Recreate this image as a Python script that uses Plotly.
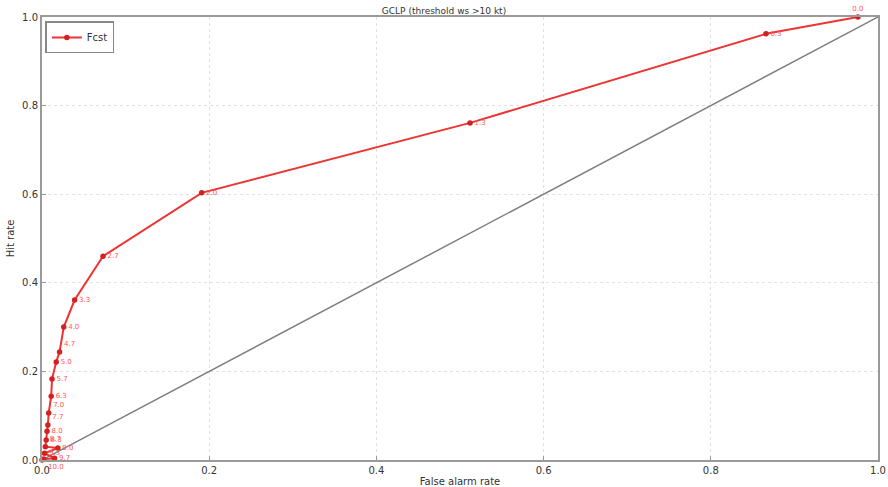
import plotly.graph_objects as go

far = [0.976, 0.866, 0.512, 0.191, 0.073, 0.039, 0.026, 0.021, 0.017, 0.012, 0.011,
       0.008, 0.007, 0.006, 0.005, 0.004, 0.019, 0.003, 0.015, 0.002, 0.0]
hit = [1.0, 0.962, 0.761, 0.603, 0.46, 0.361, 0.30, 0.244, 0.221, 0.183, 0.144,
       0.106, 0.079, 0.065, 0.045, 0.03, 0.027, 0.015, 0.004, 0.002, 0.0]
thresholds = ["0.0", "0.3", "1.3", "2.0", "2.7", "3.3", "4.0", "4.7", "5.0", "5.7", "6.3",
              "7.0", "7.7", "8.0", "8.3", "8.7", "9.0", "9.3", "9.7", "10.0", ""]
label_pos = ["top center", "middle right", "middle right", "middle right", "middle right",
             "middle right", "middle right", "top right", "middle right", "middle right",
             "middle right", "top right", "top right", "middle right", "middle right",
             "top right", "middle right", "middle right", "middle right", "bottom right",
             "middle right"]
diag = [0.0, 1.0]
ticks = [0.0, 0.2, 0.4, 0.6, 0.8, 1.0]
tick_text = ["0.0", "0.2", "0.4", "0.6", "0.8", "1.0"]

fig = go.Figure()
fig.add_trace(go.Scatter(x=diag, y=diag, mode="lines", line=dict(color="#7f7f7f", width=1.5),
                         showlegend=False, hoverinfo="skip"))
fig.add_trace(go.Scatter(x=far, y=hit, mode="lines+markers+text", name="Fcst",
                         line=dict(color="#ee3333", width=2),
                         marker=dict(color="#d42020", size=5.5, symbol="circle"),
                         text=thresholds, textposition=label_pos, cliponaxis=False,
                         textfont=dict(color="#ff5555", size=7, family="DejaVu Sans")))

axis_common = dict(range=[0, 1], tickvals=ticks, ticktext=tick_text, showgrid=True,
                   gridcolor="#e2e2e2", griddash="dot", gridwidth=1, zeroline=False,
                   showline=True, mirror=True, linecolor="#9a9a9a", linewidth=2,
                   ticks="inside", ticklen=4, tickcolor="#9a9a9a", automargin=False,
                   tickfont=dict(size=10, color="#333333", family="DejaVu Sans"))

fig.update_layout(
    width=888, height=487,
    margin=dict(l=42, r=10, t=17, b=27),
    paper_bgcolor="white", plot_bgcolor="white",
    title=dict(text="GCLP (threshold ws >10 kt)", x=0.5, xanchor="center", y=0.985, yanchor="top",
               font=dict(size=9, color="#333333", family="DejaVu Sans")),
    xaxis=dict(axis_common, title=dict(text="False alarm rate", standoff=4,
                                       font=dict(size=10, color="#333333", family="DejaVu Sans"))),
    yaxis=dict(axis_common, title=dict(text="Hit rate", standoff=6,
                                       font=dict(size=10, color="#333333", family="DejaVu Sans"))),
    legend=dict(x=0.004, y=0.99, xanchor="left", yanchor="top", bgcolor="white",
                bordercolor="#888888", borderwidth=1.5, itemwidth=30,
                font=dict(size=10, color="#333333", family="DejaVu Sans")),
    showlegend=True,
)

fig.write_html("out.html")
